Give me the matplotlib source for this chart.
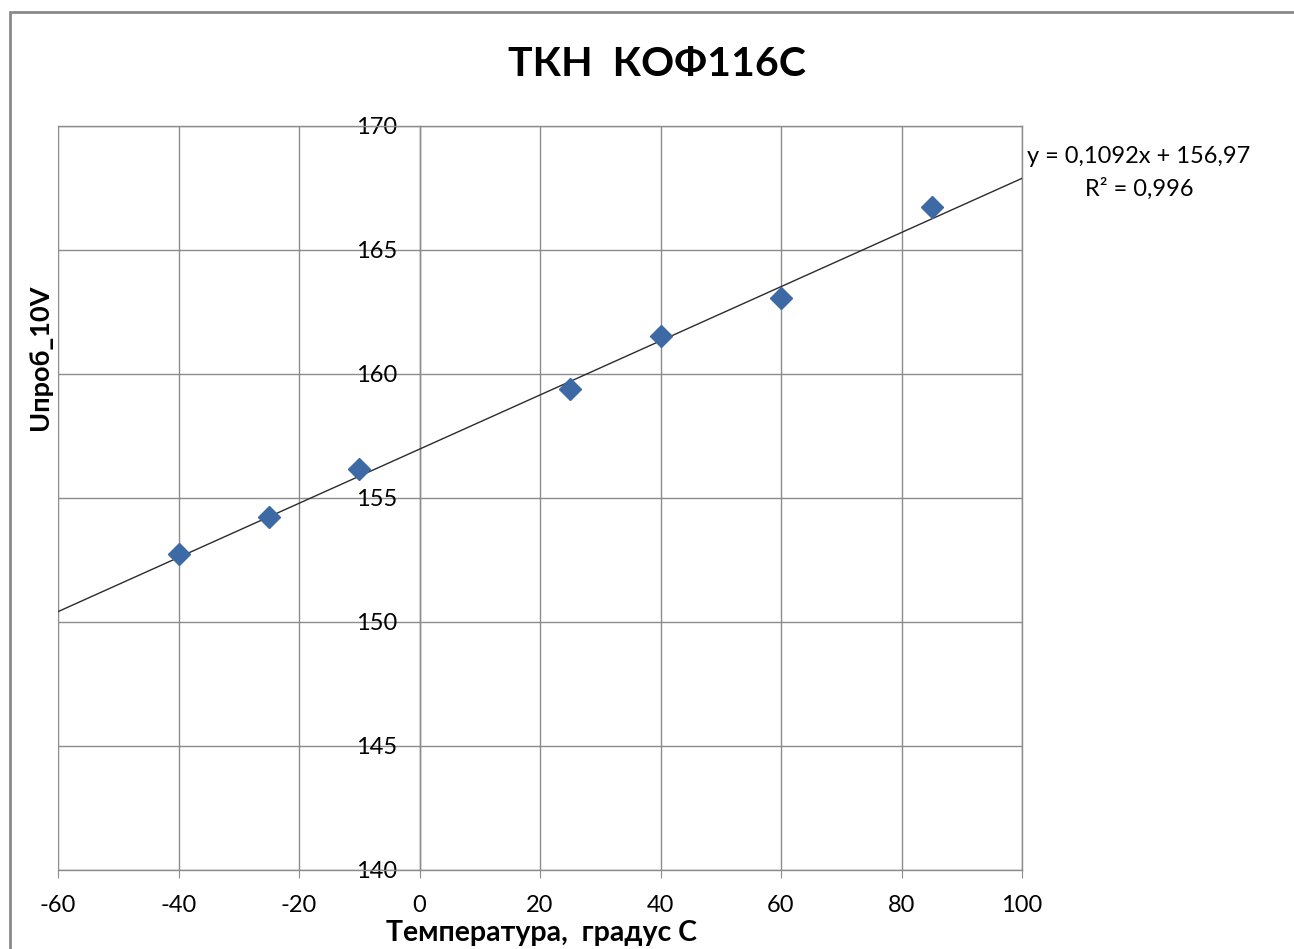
import numpy as np
import matplotlib
matplotlib.use('Agg')
import matplotlib.pyplot as plt
from matplotlib.patches import Rectangle

plt.rcParams['font.family'] = ['Lato', 'DejaVu Sans']
plt.rcParams['axes.unicode_minus'] = False

# data
temp = [-40, -25, -10, 25, 40, 60, 85]
u_prob = [152.74, 154.23, 156.17, 159.40, 161.53, 163.06, 166.73]

# trend line as printed on the chart
slope = 0.1092
intercept = 156.97
r2 = 0.996

xticks = [-60, -40, -20, 0, 20, 40, 60, 80, 100]
yticks = [140, 145, 150, 155, 160, 165, 170]

grid_c = '#8c8c8c'

fig = plt.figure(figsize=(12.94, 9.49), dpi=100)
ax = fig.add_axes([58/1294, 1-870/949, (1022-58)/1294, (870-126)/949])

ax.set_xlim(-60, 100)
ax.set_ylim(140, 170)
ax.set_xticks(xticks)
ax.set_yticks(yticks)
ax.grid(True, color=grid_c, linewidth=1)
ax.set_axisbelow(True)

for s in ax.spines.values():
    s.set_color(grid_c)
    s.set_linewidth(1)
ax.spines['left'].set_position(('data', 0))
ax.axvline(ax.get_xlim()[0], color=grid_c, linewidth=1.5)

ax.tick_params(axis='x', length=6, color=grid_c, labelsize=17, pad=12)
ax.tick_params(axis='y', length=0, labelsize=17, pad=16)
for lab in ax.get_yticklabels():
    lab.set_verticalalignment('center_baseline')

# trend line
xs = np.array(ax.get_xlim())
ax.plot(xs, slope*xs + intercept, color='#2b2b2b', linewidth=1, zorder=3)

# data points
ax.plot(temp, u_prob, linestyle='none', marker='D', markersize=11,
        color='#3d69a5', zorder=4)

eq = 'y = ' + f'{slope:.4f}'.replace('.', ',') + 'x + ' + f'{intercept:.2f}'.replace('.', ',')
eq += '\nR² = ' + f'{r2:.3f}'.replace('.', ',')
fig.text(1139/1294, 1-173/949, eq, ha='center', va='center', fontsize=17,
         multialignment='center', linespacing=1.6)

fig.text(657/1294, 1-64/949, 'ТКН  КОФ116С', ha='center', va='center',
         fontsize=29.5, fontweight='bold')
fig.text(40/1294, 1-357/949, 'Uпроб_10V', ha='center', va='center',
         rotation=90, fontsize=19.5, fontweight='bold')
fig.text(541/1294, 1-933/949, 'Температура,  градус С', ha='center', va='center',
         fontsize=20.5, fontweight='bold')

# outer chart border
fig.patches.append(Rectangle((10/1294, -0.1), 1.2, 1-12/949+0.1,
                             transform=fig.transFigure, fill=False,
                             edgecolor='#8a8a8a', linewidth=2))

plt.savefig('out.png', dpi=100)
